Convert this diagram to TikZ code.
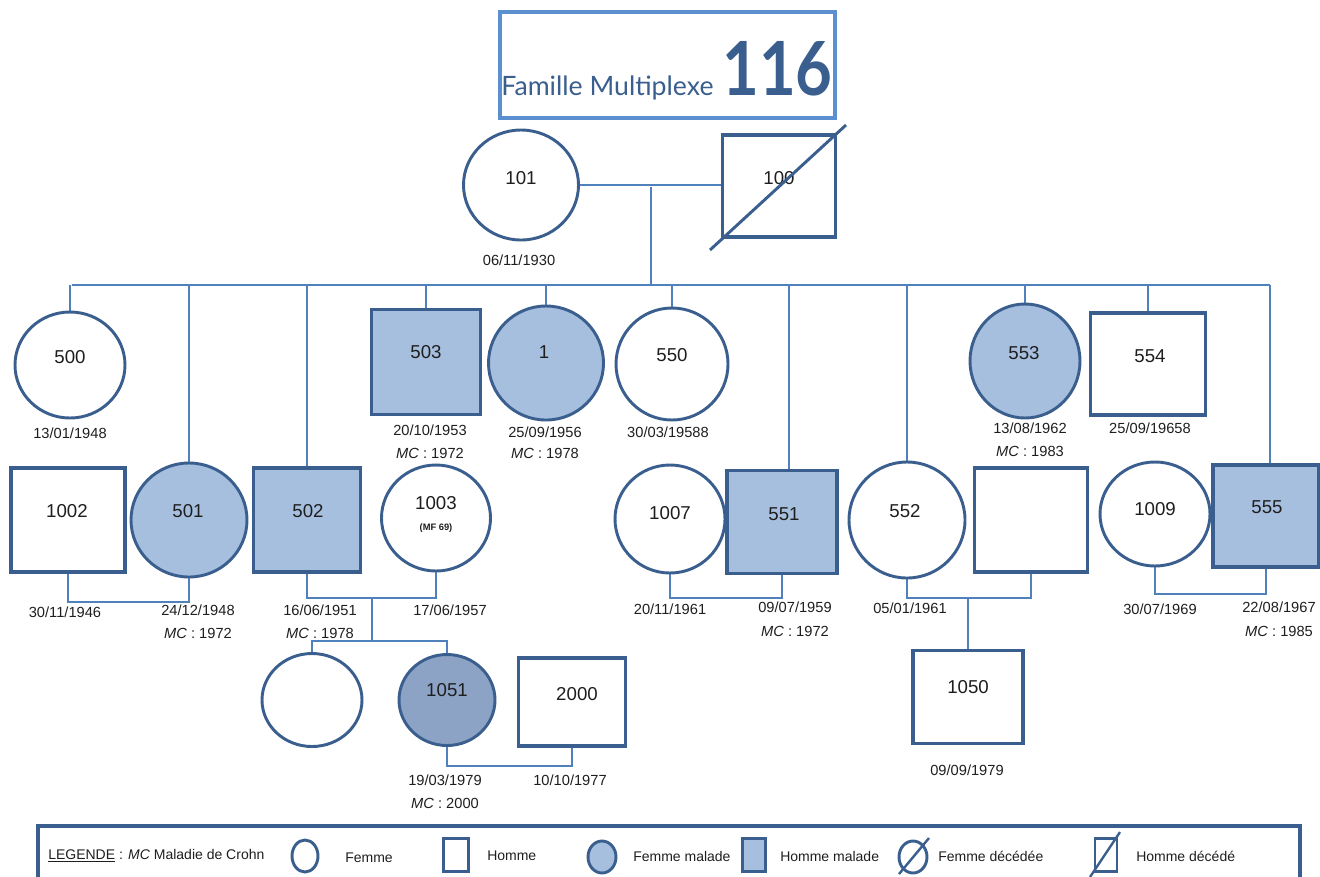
\documentclass[tikz,border=0pt]{standalone}
\usepackage{fontspec}
\setmainfont{Liberation Sans}
\newfontfamily\titlefont{Lato}
\usetikzlibrary{shapes.geometric,backgrounds}
\definecolor{edgecol}{RGB}{58,95,142}
\definecolor{conncol}{RGB}{79,129,189}
\definecolor{sickcol}{RGB}{167,191,222}
\definecolor{sickdark}{RGB}{140,163,198}
\definecolor{tborder}{RGB}{91,143,208}
\definecolor{txtcol}{RGB}{30,30,30}
\begin{document}
\begin{tikzpicture}[x=0.75pt,y=-0.75pt,
  sz/.style 2 args={minimum width=#1*0.75pt, minimum height=#2*0.75pt},
  fem/.style={ellipse, draw=edgecol, line width=2.2pt, inner sep=0pt, fill=white},
  hom/.style={rectangle, draw=edgecol, line width=2.8pt, inner sep=0pt, fill=white},
  ill/.style={fill=sickcol},
  link/.style={draw=conncol, line width=1.1pt},
  slash/.style={draw=edgecol, line width=2.2pt},
  lab/.style={text=txtcol, font=\fontsize{14}{16}\selectfont, inner sep=0pt},
  date/.style={text=txtcol, font=\fontsize{11}{13}\selectfont, inner sep=0pt},
  leg/.style={text=txtcol, font=\fontsize{10.5}{12}\selectfont, anchor=west, inner sep=0pt},
]
\useasboundingbox (0,0) rectangle (1320,876);

% Title
\node[draw=tborder, line width=2.4pt, sz={335}{106}] (tbox) at (667.5,65) {};
\node[anchor=base west, inner sep=0pt, text=edgecol, font=\titlefont\fontsize{20}{22}\selectfont] (ttext) at (501,95) {Famille Multiplexe};
\node[anchor=base west, inner sep=0pt, text=edgecol, font=\titlefont\bfseries\fontsize{56}{60}\selectfont] (tnum) at (722,95) {\scalebox{0.85}[1]{116}};

% Generation I
\node[fem, sz={115}{110}] (p101) at (521,185) {};
\node[hom, sz={113}{102}] (p100) at (779,186) {};
\coordinate (d100a) at (710,250);
\coordinate (d100b) at (846,125);

% Generation II
\node[fem, sz={110}{106}] (p500) at (70,365) {};
\node[hom, ill, sz={109}{105}] (p503) at (426,362) {};
\node[fem, ill, sz={115}{114}] (p1) at (546,363) {};
\node[fem, sz={112}{112}] (p550) at (672,364) {};
\node[fem, ill, sz={110}{114}] (p553) at (1025,361) {};
\node[hom, sz={115}{102}] (p554) at (1148,364) {};

\node[hom, sz={114}{104}] (p1002) at (68,520) {};
\node[fem, ill, sz={116}{114}] (p501) at (189,520) {};
\node[hom, ill, sz={107}{104}] (p502) at (307,520) {};
\node[fem, sz={109}{106}] (p1003) at (436,518) {};
\node[fem, sz={110}{108}] (p1007) at (670,519) {};
\node[hom, ill, sz={110}{103}] (p551) at (782,522) {};
\node[fem, sz={116}{116}] (p552) at (907,520) {};
\node[hom, sz={113}{104}] (psp) at (1031,520) {};
\node[fem, sz={110}{104}] (p1009) at (1155,514) {};
\node[hom, ill, sz={106}{102}] (p555) at (1266,516) {};

% Generation III / IV
\node[fem, sz={100}{93}] (pe) at (312,700) {};
\node[fem, fill=sickdark, sz={96}{91}] (p1051) at (447,700) {};
\node[hom, sz={107}{88}] (p2000) at (572,702) {};
\node[hom, sz={110}{93}] (p1050) at (968,697) {};

% Labels
\node[lab] (t101) at (521,178) {101};
\node[lab] (t100) at (779,178) {100};
\node[lab] (t500) at (70,357) {500};
\node[lab] (t503) at (426,352) {503};
\node[lab] (t1) at (544,352) {1};
\node[lab] (t550) at (672,355) {550};
\node[lab] (t553) at (1024,353) {553};
\node[lab] (t554) at (1150,356) {554};
\node[lab] (t1002) at (67,511) {1002};
\node[lab] (t501) at (188,511) {501};
\node[lab] (t502) at (308,511) {502};
\node[lab] (t1003) at (436,503) {1003};
\node[text=txtcol, inner sep=0pt, font=\bfseries\fontsize{7}{8}\selectfont] (tmf) at (436,528) {(MF 69)};
\node[lab] (t1007) at (670,513) {1007};
\node[lab] (t551) at (784,514) {551};
\node[lab] (t552) at (905,511) {552};
\node[lab] (t1009) at (1155,509) {1009};
\node[lab] (t555) at (1267,507) {555};
\node[lab] (t1051) at (447,690) {1051};
\node[lab] (t2000) at (577,694) {2000};
\node[lab] (t1050) at (968,687) {1050};

% Dates
\node[date] (d101) at (519,260) {06/11/1930};
\node[date] (d500) at (70,433) {13/01/1948};
\node[date] (d503) at (430,430) {20/10/1953};
\node[date] (mc503) at (430,453) {\textit{MC} : 1972};
\node[date] (d1) at (545,432) {25/09/1956};
\node[date] (mc1) at (545,453) {\textit{MC} : 1978};
\node[date] (d550) at (668,432) {30/03/19588};
\node[date] (d553) at (1030,428) {13/08/1962};
\node[date] (mc553) at (1030,451) {\textit{MC} : 1983};
\node[date] (d554) at (1150,428) {25/09/19658};
\node[date] (d1002) at (65,612) {30/11/1946};
\node[date] (d501) at (198,610) {24/12/1948};
\node[date] (mc501) at (198,633) {\textit{MC} : 1972};
\node[date] (d502) at (320,610) {16/06/1951};
\node[date] (mc502) at (320,633) {\textit{MC} : 1978};
\node[date] (d1003) at (450,610) {17/06/1957};
\node[date] (d1007) at (670,609) {20/11/1961};
\node[date] (d551) at (795,607) {09/07/1959};
\node[date] (mc551) at (795,631) {\textit{MC} : 1972};
\node[date] (d552) at (910,608) {05/01/1961};
\node[date] (d1009) at (1160,609) {30/07/1969};
\node[date] (d555) at (1279,607) {22/08/1967};
\node[date] (mc555) at (1279,631) {\textit{MC} : 1985};
\node[date] (d1050) at (967,770) {09/09/1979};
\node[date] (d1051) at (445,780) {19/03/1979};
\node[date] (mc1051) at (445,803) {\textit{MC} : 2000};
\node[date] (d2000) at (570,780) {10/10/1977};

% deceased slash
\draw[slash] (d100a) -- (d100b);

% Connectors
\coordinate (m1) at (651,187);
\coordinate (sib) at (651,285);
\coordinate (sibL) at (72,285);
\coordinate (sibR) at (1270,285);
\coordinate (m2) at (128,602);
\coordinate (m3) at (372,598);
\coordinate (c3) at (372,641);
\coordinate (m4) at (510,766);
\coordinate (m5) at (727,598);
\coordinate (m6) at (968,598);
\coordinate (m7) at (1215,594);
\begin{scope}[on background layer]
\draw[link] (p101.east) -- (p101.east -| p100.west);
\draw[link] (m1) -- (sib);
\draw[link] (sibL) -- (sibR);
\foreach \p in {p500,p501,p502,p503,p1,p550,p552,p553,p554}
  \draw[link] (\p.north) -- (\p.north |- sib);
\draw[link] ([xshift=5.25pt]p551.north) -- ([xshift=5.25pt]p551.north |- sib);
\draw[link] ([xshift=3pt]p555.north) -- ([xshift=3pt]p555.north |- sib);
\draw[link] (p1002.south) |- (m2) -| (p501.south);
\draw[link] (p502.south) |- (m3) -| (p1003.south);
\draw[link] (m3) -- (c3);
\draw[link] (pe.north) |- (c3) -| (p1051.north);
\draw[link] (p1051.south) |- (m4) -| (p2000.south);
\draw[link] (p1007.south) |- (m5) -| (p551.south);
\draw[link] (p552.south) |- (m6) -| (psp.south);
\draw[link] (m6) -- (p1050.north);
\draw[link] (p1009.south) |- (m7) -| (p555.south);
\end{scope}

% Legend
\node[draw=edgecol, line width=2.6pt, sz={1262}{70}] (legbox) at (669,861) {};
\node[leg] (legt) at (48,856) {\underline{LEGENDE} : \textit{MC} Maladie de Crohn};
\node[fem, sz={26}{32}] (lf) at (305,856) {};
\node[leg] (lft) at (345,858) {Femme};
\node[hom, line width=2.2pt, sz={25}{33}] (lh) at (456,855) {};
\node[leg] (lht) at (487,856) {Homme};
\node[fem, ill, sz={28}{32}] (lfs) at (602,857) {};
\node[leg] (lfst) at (633,856) {Femme malade};
\node[hom, ill, line width=2.2pt, sz={23}{33}] (lhs) at (754,855) {};
\node[leg] (lhst) at (780,856) {Homme malade};
\node[fem, sz={28}{32}] (lfd) at (913,857) {};
\draw[slash, line width=1.8pt] ([shift={(-14,17)}]lfd.center) -- ([shift={(16,-19)}]lfd.center);
\node[leg] (lfdt) at (938,856) {Femme décédée};
\node[hom, line width=2.2pt, sz={22}{33}] (lhd) at (1106,855) {};
\draw[slash, line width=1.8pt] ([shift={(-16,22)}]lhd.center) -- ([shift={(14,-23)}]lhd.center);
\node[leg] (lhdt) at (1136,856) {Homme décédé};
\end{tikzpicture}
\end{document}
